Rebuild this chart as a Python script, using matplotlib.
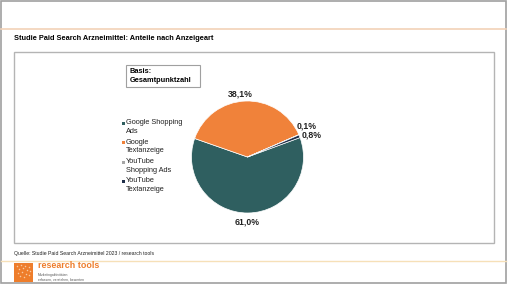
import numpy as np
import matplotlib.pyplot as plt
from matplotlib.patches import Rectangle

plt.rcParams['font.family'] = ['Liberation Sans', 'DejaVu Sans']

# Data
categories = ['Google Shopping\nAds', 'Google\nTextanzeige',
              'YouTube\nShopping Ads', 'YouTube\nTextanzeige']
shares = [61.0, 38.1, 0.1, 0.8]
colors = ['#2f5f60', '#f0823a', '#a6a6a6', '#1f2f4a']
label_texts = ['61,0%', '38,1%', '0,1%', '0,8%']

title = 'Studie Paid Search Arzneimittel: Anteile nach Anzeigeart'
source = 'Quelle: Studie Paid Search Arzneimittel 2023 / research tools'

W, H = 508, 285
fig = plt.figure(figsize=(W/100, H/100), dpi=100)

# background canvas in pixel coordinates
bg = fig.add_axes([0, 0, 1, 1])
bg.set_xlim(0, W)
bg.set_ylim(H, 0)
bg.axis('off')

bg.add_patch(Rectangle((1, 1), W-3, H-3, fill=False, ec='#a0a0a0', lw=1.2))
bg.plot([1, W-2], [29, 29], color='#f2d2b8', lw=1.2)
bg.plot([1, W-2], [260.5, 260.5], color='#f6e0b8', lw=1.0)
bg.add_patch(Rectangle((14, 52), 480, 191, fill=False, ec='#b4b4b4', lw=1.0))

bg.text(14, 38, title, fontsize=5.3, fontweight='bold', va='center', ha='left')
bg.text(14, 254, source, fontsize=3.7, va='center', ha='left', color='#222222')

# logo
bg.add_patch(Rectangle((14, 263), 19, 19, color='#ee7d2b', lw=0))
dots = [(17, 266), (21, 265), (25, 266), (29, 267), (19, 269), (23, 268),
        (27, 270), (30, 271), (18, 273), (22, 272), (26, 274), (29, 275),
        (20, 276), (24, 277)]
bg.scatter([p[0] for p in dots], [p[1] for p in dots], s=1.2,
           color='#f8c9a0', lw=0)
bg.text(38, 266, 'research tools', fontsize=6.4, fontweight='bold',
        color='#ee7d2b', va='center', ha='left')
bg.text(38, 277, 'Marketingaktivitäten\nerfassen, verstehen, bewerten',
        fontsize=2.4, color='#555555', va='center', ha='left', linespacing=1.3)

# Basis box
bg.add_patch(Rectangle((126, 65), 74, 22, fill=False, ec='#a0a0a0', lw=0.8))
bg.text(130, 76, 'Basis:\nGesamtpunktzahl', fontsize=5.3, fontweight='bold',
        va='center', ha='left', linespacing=1.3)

# legend
leg_y = [127, 146.5, 166, 185]
for lab, col, y in zip(categories, colors, leg_y):
    bg.add_patch(Rectangle((121.5, y - 5.5), 3, 3, color=col, lw=0))
    bg.text(126, y, lab, fontsize=5.3, va='center', ha='left',
            linespacing=1.3, color='#222222')

# pie
cx, cy, r = 247.5, 157, 56
ax = fig.add_axes([(cx - r)/W, (H - cy - r)/H, 2*r/W, 2*r/H])
wedges, _ = ax.pie(shares, colors=colors, startangle=20.3, counterclock=False,
                   wedgeprops=dict(edgecolor='white', linewidth=0.5))
ax.set_xlim(-1, 1)
ax.set_ylim(-1, 1)

label_pos = [(0, -1.16), None, (1.05, 0.55), (1.15, 0.39)]
for w, txt, pos in zip(wedges, label_texts, label_pos):
    ang = np.deg2rad((w.theta1 + w.theta2) / 2)
    if pos is None:
        pos = (1.13*np.cos(ang) - 0.09, 1.13*np.sin(ang))
    ax.text(pos[0], pos[1], txt, fontsize=6.3, fontweight='bold',
            ha='center', va='center', color='#222222')

fig.savefig('out.png', dpi=100)
